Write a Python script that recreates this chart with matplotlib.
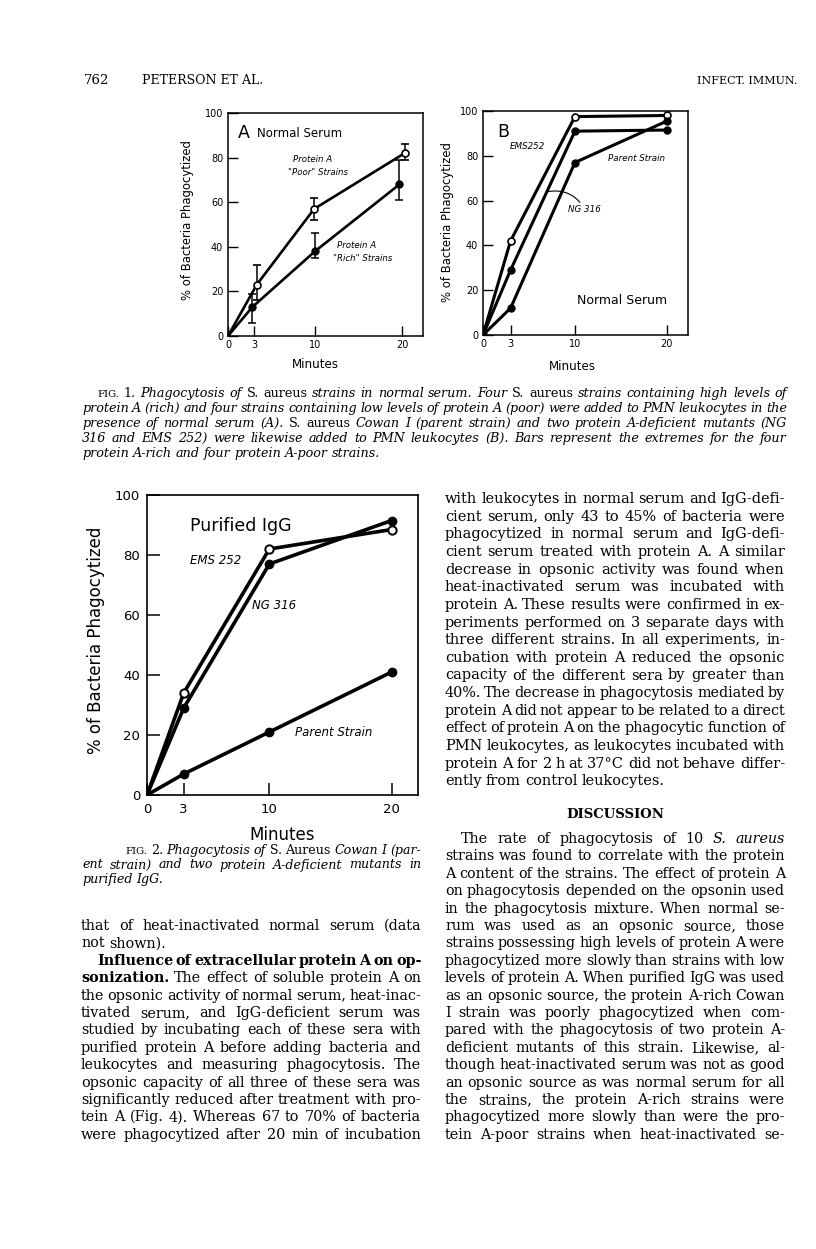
import matplotlib
matplotlib.use("Agg")
import matplotlib.pyplot as plt

# ---- data ----
minutes = [0, 3, 10, 20]

# Fig 1A, normal serum (means and extremes)
a_poor_min = [0, 3.3, 9.9, 20.3]
a_poor = [0, 23, 57, 82]
a_poor_lo = [0, 16, 52, 79]
a_poor_hi = [0, 32, 62, 86]
a_rich_min = [0, 2.8, 10, 19.7]
a_rich = [0, 13, 38, 68]
a_rich_lo = [0, 6, 35, 61]
a_rich_hi = [0, 19, 46, 79]

# Fig 1B, normal serum
b_ems = [0, 42, 97.5, 98]
b_ng = [0, 29, 91, 91.5]
b_parent = [0, 12, 77, 95.5]

# Fig 2, purified IgG
c_ems = [0, 34, 82, 88.5]
c_ng = [0, 29, 77, 91.5]
c_parent = [0, 7, 21, 41]

yticks = [0, 20, 40, 60, 80, 100]

W, H = 816, 1249
SERIF = "DejaVu Serif"
SANS = "DejaVu Sans"

fig = plt.figure(figsize=(W / 100, H / 100), dpi=100)
fig.patch.set_facecolor("white")
renderer = fig.canvas.get_renderer()


def fx(x):
    return x / W


def fy(y):
    return 1 - y / H


def axes_px(x0, y0, x1, y1):
    return fig.add_axes([fx(x0), fy(y1), (x1 - x0) / W, (y1 - y0) / H])


def style_axes(ax, xmax, fs, tlen, lw, padx, pady):
    ax.set_xlim(0, xmax)
    ax.set_ylim(0, 100)
    ax.set_xticks(minutes)
    ax.set_yticks(yticks)
    ax.tick_params(axis="both", direction="in", length=tlen, width=lw * 0.9,
                   labelsize=fs, colors="black")
    ax.tick_params(axis="x", pad=padx)
    ax.tick_params(axis="y", pad=pady)
    for lab in ax.get_xticklabels() + ax.get_yticklabels():
        lab.set_family(SANS)
    for s in ax.spines.values():
        s.set_linewidth(lw)
    ax.set_facecolor("none")


def make_words(line, y, size, italic):
    texts = []
    for word in line.split():
        st = "italic" if italic else "normal"
        wt = "normal"
        sz = size
        while word[0] in "~#^":
            c, word = word[0], word[1:]
            if c == "~":
                st = "normal" if italic else "italic"
            elif c == "#":
                wt = "bold"
            else:
                sz = size * 0.8
        texts.append(fig.text(0, fy(y), word, fontsize=sz, family=SERIF,
                              style=st, weight=wt, va="baseline"))
    widths = [t.get_window_extent(renderer).width for t in texts]
    return texts, widths


def fit_size(block, size, italic=False):
    # size at which most justified lines keep roughly normal word spaces
    ratios = []
    for ln, x0, x1, just in block:
        if not just:
            continue
        texts, widths = make_words(ln, 0, size, italic)
        sp = size / 72 * 100 * 0.28
        ratios.append((x1 - x0) / (sum(widths) + sp * (len(texts) - 1)))
        for t in texts:
            t.remove()
    ratios.sort()
    return size * ratios[len(ratios) // 5]


def put_line(line, x0, x1, y, size, just=True, italic=False):
    texts, widths = make_words(line, y, size, italic)
    sp = size / 72 * 100 * 0.3
    n = len(texts)
    total = x1 - x0
    if just and n > 1:
        need = sum(widths) + sp * 0.7 * (n - 1)
        if need > total:
            f = (total - sp * 0.7 * (n - 1)) / sum(widths)
            for t in texts:
                t.set_fontsize(t.get_fontsize() * f)
            widths = [w * f for w in widths]
        gap = (total - sum(widths)) / (n - 1)
    else:
        gap = sp
    x = x0
    for t, w in zip(texts, widths):
        t.set_x(fx(x))
        x += w + gap


def put_block(block, y0, step, italic=False, base=9.0):
    size = fit_size(block, base, italic)
    for i, (ln, x0, x1, just) in enumerate(block):
        put_line(ln, x0, x1, y0 + step * i, size, just=just, italic=italic)


# ---- page header ----
fig.text(fx(84), fy(84), "762", fontsize=9.5, family=SERIF)
fig.text(fx(142), fy(84), "PETERSON ET AL.", fontsize=9, family=SERIF)
fig.text(fx(797), fy(84), "INFECT. IMMUN.", fontsize=8, family=SERIF, ha="right")

# ---- Fig 1A ----
axA = axes_px(228, 113, 423, 336)
style_axes(axA, 22.4, 7, 7, 1.1, 3, 3.5)
axA.plot(a_poor_min, a_poor, "-", color="black", lw=1.9, zorder=2)
axA.plot(a_rich_min, a_rich, "-", color="black", lw=1.9, zorder=2)
axA.errorbar(a_poor_min[1:], a_poor[1:],
             yerr=[[m - l for m, l in zip(a_poor[1:], a_poor_lo[1:])],
                   [h - m for m, h in zip(a_poor[1:], a_poor_hi[1:])]],
             fmt="o", ms=5, mfc="white", mec="black", mew=1.2, ecolor="black",
             elinewidth=1.1, capsize=3, capthick=1.1, zorder=3)
axA.errorbar(a_rich_min[1:], a_rich[1:],
             yerr=[[m - l for m, l in zip(a_rich[1:], a_rich_lo[1:])],
                   [h - m for m, h in zip(a_rich[1:], a_rich_hi[1:])]],
             fmt="o", ms=5, mfc="black", mec="black", ecolor="black",
             elinewidth=1.1, capsize=3, capthick=1.1, zorder=3)
axA.text(1.1, 91, "A", fontsize=12.5, family=SANS, va="center")
axA.text(3.3, 91, "Normal Serum", fontsize=8.5, family=SANS, va="center")
axA.text(7.5, 79, "Protein A", fontsize=6.2, family=SANS, style="italic", va="center")
axA.text(6.9, 73.2, '"Poor" Strains', fontsize=6.2, family=SANS, style="italic", va="center")
axA.text(12.5, 40.5, "Protein A", fontsize=6.2, family=SANS, style="italic", va="center")
axA.text(12.1, 34.6, '"Rich" Strains', fontsize=6.2, family=SANS, style="italic", va="center")
fig.text(fx(188), fy(220), "% of Bacteria Phagocytized", rotation=90, fontsize=8.4,
         family=SANS, ha="center", va="center")
fig.text(fx(315), fy(364), "Minutes", fontsize=8.6, family=SANS, ha="center", va="center")

# ---- Fig 1B ----
axB = axes_px(483, 111, 688, 335)
style_axes(axB, 22.3, 7, 7, 1.1, 3, 3.5)
axB.plot(minutes, b_ems, "-o", color="black", lw=2.2, ms=5, mfc="white", mew=1.2)
axB.plot(minutes, b_ng, "-o", color="black", lw=2.2, ms=5, mfc="black")
axB.plot(minutes, b_parent, "-o", color="black", lw=2.2, ms=5, mfc="black")
axB.text(1.5, 90.5, "B", fontsize=12.5, family=SANS, va="center")
axB.text(2.9, 84, "EMS252", fontsize=6.3, family=SANS, style="italic", va="center")
axB.text(13.6, 79, "Parent Strain", fontsize=6.3, family=SANS, style="italic", va="center")
axB.annotate("NG 316", xy=(7.0, 64), xytext=(9.3, 56), fontsize=6.3, family=SANS,
             style="italic", va="center",
             arrowprops=dict(arrowstyle="-", color="black", lw=0.8,
                             connectionstyle="arc3,rad=0.35", shrinkA=0, shrinkB=0))
axB.text(10.2, 15.6, "Normal Serum", fontsize=9, family=SANS, va="center")
fig.text(fx(447), fy(222), "% of Bacteria Phagocytized", rotation=90, fontsize=8.4,
         family=SANS, ha="center", va="center")
fig.text(fx(572), fy(367), "Minutes", fontsize=8.6, family=SANS, ha="center", va="center")

# ---- Fig 1 caption ----
cap1 = [
    ("^~FIG. ~1. Phagocytosis of ~S. ~aureus strains in normal serum. Four ~S. ~aureus strains containing high levels of", 97, 787, True),
    ("protein A (rich) and four strains containing low levels of protein A (poor) were added to PMN leukocytes in the", 82, 787, True),
    ("presence of normal serum (A). ~S. ~aureus Cowan I (parent strain) and two protein A-deficient mutants (NG", 82, 787, True),
    ("316 and EMS 252) were likewise added to PMN leukocytes (B). Bars represent the extremes for the four", 82, 787, True),
    ("protein A-rich and four protein A-poor strains.", 82, 787, False),
]
put_block(cap1, 397, 15, italic=True, base=7.6)

# ---- Fig 2 ----
axC = axes_px(147, 495, 418, 795)
style_axes(axC, 22.15, 9.5, 9, 1.2, 6, 5)
axC.plot(minutes, c_ems, "-o", color="black", lw=2.6, ms=6, mfc="white", mew=1.4)
axC.plot(minutes, c_ng, "-o", color="black", lw=2.6, ms=6, mfc="black")
axC.plot(minutes, c_parent, "-o", color="black", lw=2.6, ms=6, mfc="black")
axC.text(3.5, 89.7, "Purified IgG", fontsize=12.5, family=SANS, va="center")
axC.text(3.5, 78, "EMS 252", fontsize=8.5, family=SANS, style="italic", va="center")
axC.text(8.6, 63, "NG 316", fontsize=8.5, family=SANS, style="italic", va="center")
axC.text(12.1, 20.8, "Parent Strain", fontsize=8.5, family=SANS, style="italic", va="center")
fig.text(fx(96), fy(640), "% of Bacteria Phagocytized", rotation=90, fontsize=12,
         family=SANS, ha="center", va="center")
fig.text(fx(282), fy(835), "Minutes", fontsize=12, family=SANS, ha="center", va="center")

cap2 = [
    ("^~FIG. ~2. Phagocytosis of ~S. ~Aureus Cowan I (par-", 125, 421, True),
    ("ent strain) and two protein A-deficient mutants in", 82, 421, True),
    ("purified IgG.", 82, 421, False),
]
put_block(cap2, 854, 14.5, italic=True, base=7.6)

# ---- left column body ----
left_col = [
    ("that of heat-inactivated normal serum (data", 81, 421, True),
    ("not shown).", 81, 421, False),
    ("#Influence #of #extracellular #protein #A #on #op-", 97, 421, True),
    ("#sonization. The effect of soluble protein A on", 81, 421, True),
    ("the opsonic activity of normal serum, heat-inac-", 81, 421, True),
    ("tivated serum, and IgG-deficient serum was", 81, 421, True),
    ("studied by incubating each of these sera with", 81, 421, True),
    ("purified protein A before adding bacteria and", 81, 421, True),
    ("leukocytes and measuring phagocytosis. The", 81, 421, True),
    ("opsonic capacity of all three of these sera was", 81, 421, True),
    ("significantly reduced after treatment with pro-", 81, 421, True),
    ("tein A (Fig. 4). Whereas 67 to 70% of bacteria", 81, 421, True),
    ("were phagocytized after 20 min of incubation", 81, 421, True),
]
put_block(left_col, 930, 17.4)

# ---- right column body ----
right_top = [
    "with leukocytes in normal serum and IgG-defi-",
    "cient serum, only 43 to 45% of bacteria were",
    "phagocytized in normal serum and IgG-defi-",
    "cient serum treated with protein A. A similar",
    "decrease in opsonic activity was found when",
    "heat-inactivated serum was incubated with",
    "protein A. These results were confirmed in ex-",
    "periments performed on 3 separate days with",
    "three different strains. In all experiments, in-",
    "cubation with protein A reduced the opsonic",
    "capacity of the different sera by greater than",
    "40%. The decrease in phagocytosis mediated by",
    "protein A did not appear to be related to a direct",
    "effect of protein A on the phagocytic function of",
    "PMN leukocytes, as leukocytes incubated with",
    "protein A for 2 h at 37°C did not behave differ-",
    "ently from control leukocytes.",
]
put_block([(ln, 445, 785, i < len(right_top) - 1) for i, ln in enumerate(right_top)],
          503, 17.65)

fig.text(fx(615), fy(818), "DISCUSSION", fontsize=9.5, family=SERIF,
         weight="bold", ha="center", va="baseline")

right_bot = [
    "The rate of phagocytosis of 10 ~S. ~aureus",
    "strains was found to correlate with the protein",
    "A content of the strains. The effect of protein A",
    "on phagocytosis depended on the opsonin used",
    "in the phagocytosis mixture. When normal se-",
    "rum was used as an opsonic source, those",
    "strains possessing high levels of protein A were",
    "phagocytized more slowly than strains with low",
    "levels of protein A. When purified IgG was used",
    "as an opsonic source, the protein A-rich Cowan",
    "I strain was poorly phagocytized when com-",
    "pared with the phagocytosis of two protein A-",
    "deficient mutants of this strain. Likewise, al-",
    "though heat-inactivated serum was not as good",
    "an opsonic source as was normal serum for all",
    "the strains, the protein A-rich strains were",
    "phagocytized more slowly than were the pro-",
    "tein A-poor strains when heat-inactivated se-",
]
put_block([(ln, 461 if i == 0 else 445, 785, True) for i, ln in enumerate(right_bot)],
          843, 17.4)

fig.savefig("out.png", dpi=100, facecolor="white")
